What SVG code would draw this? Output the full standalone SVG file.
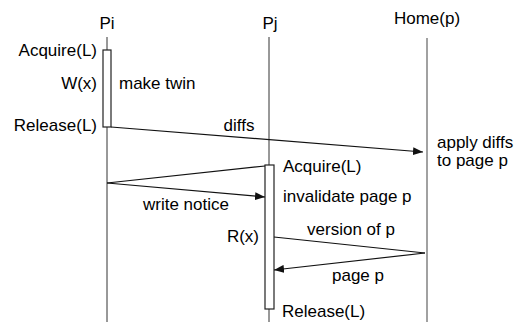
<svg xmlns="http://www.w3.org/2000/svg" width="522" height="322" viewBox="0 0 522 322">
  <style>
    text { font-family: "Liberation Sans", Arial, sans-serif; font-size: 17px; fill: #000; }
    .end { text-anchor: end; }
    .mid { text-anchor: middle; }
    .life { stroke: #333; stroke-width: 1; fill: none; }
    .home { stroke: #8a8a8a; stroke-width: 1.6; fill: none; }
    .act { fill: #fff; stroke: #222; stroke-width: 1.2; }
    .msg { stroke: #111; stroke-width: 1.2; fill: none; }
  </style>
  <defs>
    <marker id="arrow" viewBox="0 0 10 8" refX="10" refY="4" markerWidth="10" markerHeight="8" markerUnits="userSpaceOnUse" orient="auto">
      <path d="M0,0 L10,4 L0,8 Z" fill="#111"/>
    </marker>
  </defs>
  <rect width="522" height="322" fill="#fff"/>

  <!-- process Pi -->
  <g id="pi">
    <text x="107" y="29" class="mid">Pi</text>
    <line class="life" x1="107" y1="37" x2="107" y2="322"/>
    <rect class="act" x="103" y="50" width="8" height="77"/>
    <text x="97" y="56" class="end">Acquire(L)</text>
    <text x="97" y="89" class="end">W(x)</text>
    <text x="119" y="89">make twin</text>
    <text x="97" y="131" class="end">Release(L)</text>
  </g>

  <!-- process Pj -->
  <g id="pj">
    <text x="270" y="29" class="mid">Pj</text>
    <line class="life" x1="269" y1="37" x2="269" y2="322"/>
    <rect class="act" x="265" y="165" width="9" height="144"/>
    <text x="283" y="172">Acquire(L)</text>
    <text x="283" y="202">invalidate page p</text>
    <text x="259" y="242" class="end">R(x)</text>
    <text x="282" y="317">Release(L)</text>
  </g>

  <!-- home node of page p -->
  <g id="home">
    <text x="427" y="24" class="mid">Home(p)</text>
    <line class="home" x1="427" y1="38" x2="427" y2="322"/>
    <text x="437" y="148">apply diffs</text>
    <text x="437" y="166">to page p</text>
  </g>

  <!-- messages -->
  <g id="connectors">
    <line class="msg" x1="111" y1="127" x2="423" y2="152" marker-end="url(#arrow)"/>
    <text x="239" y="131" class="mid">diffs</text>

    <line class="msg" x1="265" y1="166" x2="107" y2="183"/>
    <line class="msg" x1="107" y1="183" x2="265" y2="197" marker-end="url(#arrow)"/>
    <text x="186" y="210" class="mid">write notice</text>

    <line class="msg" x1="274" y1="237" x2="425" y2="253"/>
    <text x="351" y="235" class="mid">version of p</text>
    <line class="msg" x1="425" y1="253" x2="274" y2="270" marker-end="url(#arrow)"/>
    <text x="358" y="281" class="mid">page p</text>
  </g>
</svg>
